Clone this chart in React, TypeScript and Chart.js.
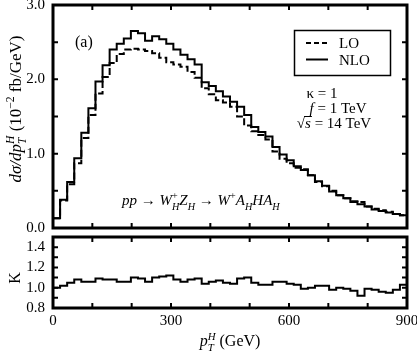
import React, { useEffect, useRef } from "react";
import { Chart, registerables } from "chart.js";

Chart.register(...registerables);

// ---- data ----
const binEdges = [
  0, 18, 36, 54, 72, 90, 108, 126, 144, 162, 180, 198, 216, 234, 252, 270, 288, 306, 324, 342,
  360, 378, 396, 414, 432, 450, 468, 486, 504, 522, 540, 558, 576, 594, 612, 630, 648, 666, 684,
  702, 720, 738, 756, 774, 792, 810, 828, 846, 864, 882, 900,
];
const nloValues = [
  0.13, 0.38, 0.62, 0.94, 1.28, 1.61, 1.97, 2.19, 2.4, 2.48, 2.55, 2.65, 2.62, 2.52, 2.58, 2.54,
  2.48, 2.4, 2.33, 2.27, 2.2, 1.96, 1.91, 1.84, 1.77, 1.7, 1.63, 1.52, 1.36, 1.29, 1.23, 1.09,
  0.99, 0.91, 0.83, 0.78, 0.71, 0.63, 0.57, 0.49, 0.44, 0.4, 0.35, 0.32, 0.29, 0.25, 0.23, 0.21,
  0.19, 0.17,
];
const loValues = [
  0.13, 0.37, 0.59, 0.87, 1.21, 1.52, 1.81, 2.03, 2.22, 2.34, 2.4, 2.41, 2.4, 2.38, 2.35, 2.29,
  2.23, 2.2, 2.17, 2.1, 2.02, 1.88, 1.8, 1.72, 1.69, 1.63, 1.5, 1.38, 1.3, 1.25, 1.19, 1.03, 0.93,
  0.87, 0.81, 0.79, 0.71, 0.62, 0.56, 0.5, 0.44, 0.4, 0.36, 0.35, 0.29, 0.26, 0.24, 0.22, 0.19,
  0.17,
];
const kValues = [
  1.0, 1.02, 1.05, 1.08, 1.06, 1.06, 1.09, 1.08, 1.08, 1.06, 1.06, 1.1, 1.09, 1.06, 1.1, 1.11,
  1.12, 1.08, 1.06, 1.08, 1.09, 1.04, 1.06, 1.07, 1.05, 1.04, 1.09, 1.1, 1.05, 1.03, 1.03, 1.06,
  1.06, 1.04, 1.03, 0.99, 1.0, 1.02, 1.02, 0.98, 1.0, 0.99, 0.97, 0.92, 0.99, 0.98, 0.96, 0.95,
  0.98, 1.03,
];
const xLabelValues = [0, 300, 600, 900];
const yTopLabelValues = [0, 1, 2, 3];
const kLabelValues = [0.8, 1.0, 1.2, 1.4];
const legendLabels = ["LO", "NLO"];

const FAMILY = '"Liberation Serif", "Times New Roman", serif';

type Seg = { t: string; it?: boolean; pos?: "sub" | "sup"; keep?: boolean };

function fnt(size: number, it?: boolean) {
  return `${it ? "italic " : ""}${size}px ${FAMILY}`;
}

function drawRich(
  ctx: CanvasRenderingContext2D,
  segs: Seg[],
  x: number,
  y: number,
  size: number,
  align: "left" | "center" = "left"
) {
  const small = size * 0.68;
  const items: { s: Seg; sz: number; x: number; dy: number }[] = [];
  let cx = 0;
  let pending = 0;
  for (const s of segs) {
    const sz = s.pos ? small : size;
    ctx.font = fnt(sz, s.it);
    const w = ctx.measureText(s.t).width;
    const dy = s.pos === "sub" ? size * 0.3 : s.pos === "sup" ? -size * 0.4 : 0;
    items.push({ s, sz, x: cx, dy });
    if (s.keep) {
      pending = w;
    } else {
      cx += Math.max(w, pending);
      pending = 0;
    }
  }
  const x0 = align === "center" ? x - cx / 2 : x;
  ctx.textAlign = "left";
  ctx.textBaseline = "alphabetic";
  ctx.fillStyle = "#000";
  for (const it of items) {
    ctx.font = fnt(it.sz, it.s.it);
    ctx.fillText(it.s.t, x0 + it.x, y + it.dy);
  }
  return cx;
}

function toSteps(vals: number[]) {
  return binEdges.map((x, i) => ({ x, y: vals[Math.min(i, vals.length - 1)] }));
}

const framePlugin = {
  id: "frame",
  afterDraw(chart: any) {
    const { ctx, chartArea: a, scales } = chart;
    ctx.save();
    ctx.strokeStyle = "#000";
    ctx.lineWidth = 2;
    const L = 5;
    for (const t of scales.x.ticks) {
      const px = scales.x.getPixelForValue(t.value);
      ctx.beginPath();
      ctx.moveTo(px, a.bottom);
      ctx.lineTo(px, a.bottom - L);
      ctx.moveTo(px, a.top);
      ctx.lineTo(px, a.top + L);
      ctx.stroke();
    }
    for (const t of scales.y.ticks) {
      const py = scales.y.getPixelForValue(t.value);
      ctx.beginPath();
      ctx.moveTo(a.left, py);
      ctx.lineTo(a.left + L, py);
      ctx.moveTo(a.right, py);
      ctx.lineTo(a.right - L, py);
      ctx.stroke();
    }
    ctx.lineWidth = 3;
    ctx.strokeRect(a.left, a.top, a.right - a.left, a.bottom - a.top);
    ctx.restore();
  },
};

const topAnnot = {
  id: "topAnnot",
  afterDraw(chart: any) {
    const ctx: CanvasRenderingContext2D = chart.ctx;
    ctx.save();
    // y title
    ctx.save();
    ctx.translate(21, 109);
    ctx.rotate(-Math.PI / 2);
    drawRich(
      ctx,
      [
        { t: "dσ/dp", it: true },
        { t: "T", it: true, pos: "sub", keep: true },
        { t: "H", it: true, pos: "sup" },
        { t: " (10" },
        { t: "−2", pos: "sup" },
        { t: " fb/GeV)" },
      ],
      0,
      0,
      17,
      "center"
    );
    ctx.restore();
    // (a)
    drawRich(ctx, [{ t: "(a)" }], 75, 47, 16);
    // legend box
    ctx.strokeStyle = "#000";
    ctx.lineWidth = 1.5;
    ctx.strokeRect(294.5, 30.5, 96, 45);
    ctx.lineWidth = 2;
    ctx.setLineDash([5, 3]);
    ctx.beginPath();
    ctx.moveTo(306, 43);
    ctx.lineTo(328, 43);
    ctx.stroke();
    ctx.setLineDash([]);
    ctx.beginPath();
    ctx.moveTo(306, 59.5);
    ctx.lineTo(328, 59.5);
    ctx.stroke();
    drawRich(ctx, [{ t: legendLabels[0] }], 339, 48, 15);
    drawRich(ctx, [{ t: legendLabels[1] }], 339, 65, 15);
    // parameters
    drawRich(ctx, [{ t: "κ = 1" }], 322, 98, 15, "center");
    drawRich(ctx, [{ t: "f", it: true }, { t: " = 1 TeV" }], 338, 113, 15, "center");
    // sqrt s
    {
      ctx.font = fnt(15);
      const wRoot = ctx.measureText("√").width;
      ctx.font = fnt(15, true);
      const wS = ctx.measureText("s").width;
      ctx.font = fnt(15);
      const wRest = ctx.measureText(" = 14 TeV").width;
      const total = wRoot + wS + wRest;
      const x0 = 334 - total / 2;
      const by = 128;
      drawRich(ctx, [{ t: "√" }, { t: "s", it: true }, { t: " = 14 TeV" }], x0, by, 15);
      ctx.lineWidth = 1;
      ctx.beginPath();
      ctx.moveTo(x0 + wRoot - 1, by - 11.5);
      ctx.lineTo(x0 + wRoot + wS + 1, by - 11.5);
      ctx.stroke();
    }
    // process
    drawRich(
      ctx,
      [
        { t: "pp", it: true },
        { t: " → " },
        { t: "W", it: true },
        { t: "H", it: true, pos: "sub", keep: true },
        { t: "+", pos: "sup" },
        { t: "Z", it: true },
        { t: "H", it: true, pos: "sub" },
        { t: " → " },
        { t: "W", it: true },
        { t: "+", pos: "sup" },
        { t: "A", it: true },
        { t: "H", it: true, pos: "sub" },
        { t: "H", it: true },
        { t: "A", it: true },
        { t: "H", it: true, pos: "sub" },
      ],
      122,
      205,
      15
    );
    ctx.restore();
  },
};

const botAnnot = {
  id: "botAnnot",
  afterDraw(chart: any) {
    const ctx: CanvasRenderingContext2D = chart.ctx;
    ctx.save();
    ctx.save();
    ctx.translate(20, 43);
    ctx.rotate(-Math.PI / 2);
    drawRich(ctx, [{ t: "K" }], 0, 0, 16, "center");
    ctx.restore();
    drawRich(
      ctx,
      [
        { t: "p", it: true },
        { t: "T", it: true, pos: "sub", keep: true },
        { t: "H", it: true, pos: "sup" },
        { t: " (GeV)" },
      ],
      230,
      111,
      16,
      "center"
    );
    ctx.restore();
  },
};

function zeroPad(s: any) {
  s.paddingTop = 0;
  s.paddingBottom = 0;
  s.paddingLeft = 0;
  s.paddingRight = 0;
}

export default function App() {
  const topRef = useRef<HTMLCanvasElement>(null);
  const botRef = useRef<HTMLCanvasElement>(null);

  useEffect(() => {
    const tickFont = { family: FAMILY, size: 15 };
    const noGrid = { display: false, drawTicks: false };
    const top = new Chart(topRef.current as HTMLCanvasElement, {
      type: "line",
      data: {
        datasets: [
          {
            label: legendLabels[0],
            data: toSteps(loValues),
            stepped: "before",
            borderColor: "#000",
            borderWidth: 2,
            borderDash: [7, 3],
            pointRadius: 0,
            fill: false,
          },
          {
            label: legendLabels[1],
            data: toSteps(nloValues),
            stepped: "before",
            borderColor: "#000",
            borderWidth: 2,
            pointRadius: 0,
            fill: false,
          },
        ],
      },
      options: {
        animation: false,
        responsive: false,
        maintainAspectRatio: false,
        devicePixelRatio: 1,
        layout: { padding: { left: 0, right: 10, top: 5, bottom: 0 } },
        plugins: { legend: { display: false }, tooltip: { enabled: false } },
        scales: {
          x: {
            type: "linear",
            min: 0,
            max: 900,
            ticks: { display: false, stepSize: 100 },
            grid: noGrid,
            border: { display: false },
            afterFit: (s: any) => {
              s.height = 7;
              zeroPad(s);
            },
          },
          y: {
            type: "linear",
            min: 0,
            max: 3,
            ticks: {
              stepSize: 0.5,
              autoSkip: false,
              padding: 8,
              color: "#000",
              font: tickFont,
              callback: (v: any) =>
                yTopLabelValues.some((l) => Math.abs(l - v) < 1e-6) ? Number(v).toFixed(1) : "",
            },
            grid: noGrid,
            border: { display: false },
            afterFit: (s: any) => {
              s.width = 53;
              zeroPad(s);
            },
          },
        },
      } as any,
      plugins: [framePlugin, topAnnot],
    });

    const bot = new Chart(botRef.current as HTMLCanvasElement, {
      type: "line",
      data: {
        datasets: [
          {
            label: "K",
            data: toSteps(kValues),
            stepped: "before",
            borderColor: "#000",
            borderWidth: 2,
            pointRadius: 0,
            fill: false,
          },
        ],
      },
      options: {
        animation: false,
        responsive: false,
        maintainAspectRatio: false,
        devicePixelRatio: 1,
        layout: { padding: { left: 0, right: 10, top: 2, bottom: 0 } },
        plugins: { legend: { display: false }, tooltip: { enabled: false } },
        scales: {
          x: {
            type: "linear",
            min: 0,
            max: 900,
            ticks: {
              stepSize: 100,
              autoSkip: false,
              maxRotation: 0,
              padding: 4,
              color: "#000",
              font: tickFont,
              callback: (v: any) => (xLabelValues.includes(Number(v)) ? String(v) : ""),
            },
            grid: noGrid,
            border: { display: false },
            afterFit: (s: any) => {
              s.height = 48;
              zeroPad(s);
            },
          },
          y: {
            type: "linear",
            min: 0.8,
            max: 1.5,
            ticks: {
              stepSize: 0.1,
              autoSkip: false,
              padding: 8,
              color: "#000",
              font: tickFont,
              callback: (v: any) =>
                kLabelValues.some((l) => Math.abs(l - v) < 1e-6) ? Number(v).toFixed(1) : "",
            },
            grid: noGrid,
            border: { display: false },
            afterFit: (s: any) => {
              s.width = 53;
              zeroPad(s);
            },
          },
        },
      } as any,
      plugins: [framePlugin, botAnnot],
    });

    return () => {
      top.destroy();
      bot.destroy();
    };
  }, []);

  return (
    <div style={{ position: "absolute", left: 0, top: 0, width: 417, height: 356, background: "#fff" }}>
      <canvas
        ref={topRef}
        width={417}
        height={235}
        style={{ position: "absolute", left: 0, top: 0, width: 417, height: 235 }}
      />
      <canvas
        ref={botRef}
        width={417}
        height={121}
        style={{ position: "absolute", left: 0, top: 235, width: 417, height: 121 }}
      />
    </div>
  );
}
